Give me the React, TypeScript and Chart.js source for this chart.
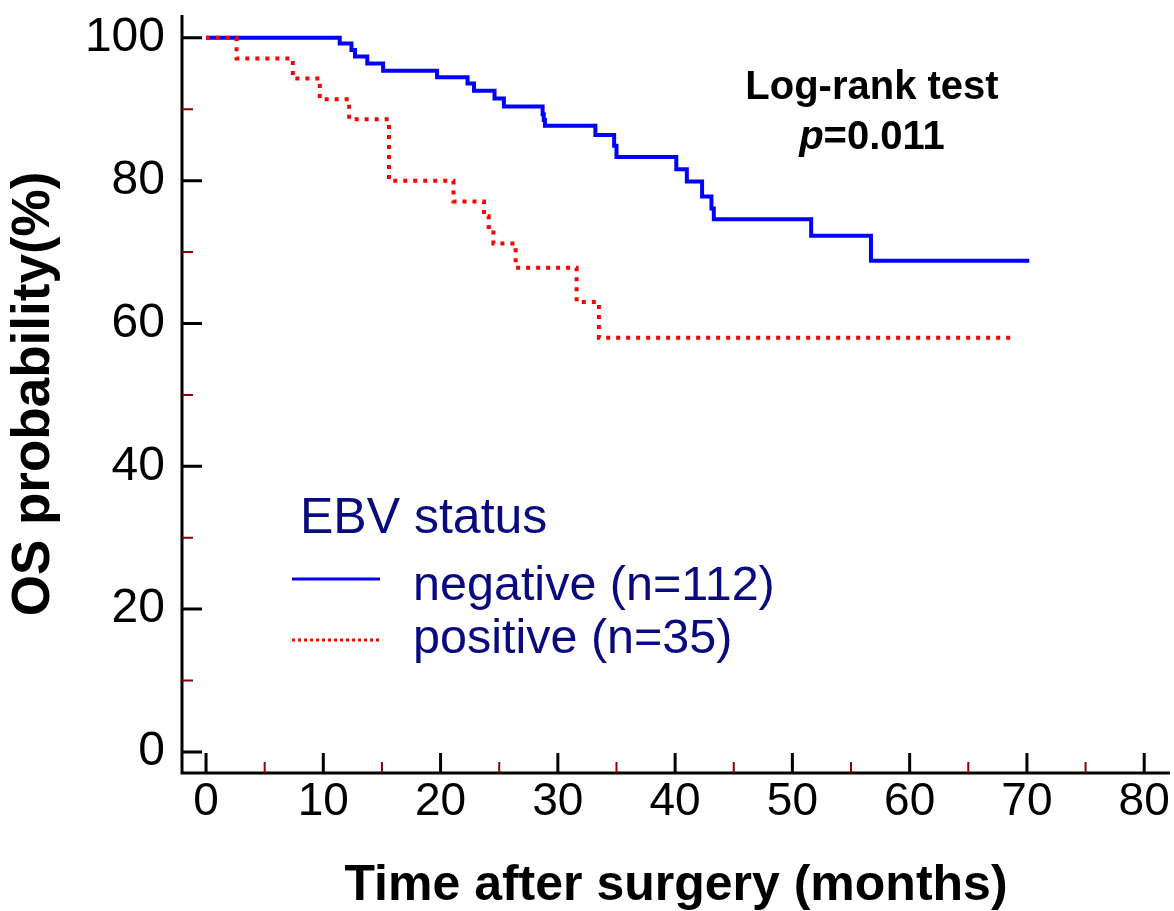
import React, { useEffect, useRef } from 'react';
import { Chart, registerables } from 'chart.js';

Chart.register(...registerables);

// ---- Data (Kaplan–Meier step points) ----
const negTimes = [0, 11.4, 12.4, 12.7, 13.75, 15.1, 19.7, 22.3, 22.85, 24.6, 25.4, 28.7, 28.8, 28.9, 33.2, 34.8, 35.0, 40.1, 41.0, 42.3, 43.1, 43.3, 51.6, 56.7, 70.2];
const negSurv = [100, 99.2, 98.3, 97.4, 96.4, 95.4, 94.5, 93.6, 92.6, 91.5, 90.4, 89.3, 88.5, 87.7, 86.4, 84.9, 83.3, 81.6, 79.9, 77.8, 76.1, 74.6, 72.3, 68.8, 68.8];

const posTimes = [0, 2.6, 7.4, 9.7, 12.2, 15.6, 21.1, 23.7, 24.1, 24.5, 26.4, 31.6, 33.5, 69.0];
const posSurv = [100, 97.1, 94.3, 91.4, 88.6, 80.0, 77.1, 75.0, 73.5, 71.2, 67.8, 63.0, 58.0, 58.0];

const seriesLabels = ['negative (n=112)', 'positive (n=35)'];
const legendTitle = 'EBV status';

const xTicks = [0, 10, 20, 30, 40, 50, 60, 70, 80];
const xMinorTicks = [5, 15, 25, 35, 45, 55, 65, 75];
const yTicks = [0, 20, 40, 60, 80, 100];
const yMinorTicks = [10, 30, 50, 70, 90];

const xTitle = 'Time after surgery (months)';
const yTitle = 'OS probability(%)';
const testTitle = 'Log-rank test';
const pSymbol = 'p';
const pValueText = '=0.011';

const FONT = "'Liberation Sans', Arial, Helvetica, sans-serif";
const NAVY = '#0a0a80';
const BLUE = '#0000ff';
const RED = '#ff0000';
const MINOR = '#8b0000';

const kmPlugin = {
  id: 'kmDecor',
  afterDatasetsDraw(chart: any) {
    const { ctx, chartArea: ca, scales } = chart;
    const x = scales.x;
    const y = scales.y;
    ctx.save();

    // axis lines
    ctx.strokeStyle = '#000';
    ctx.lineWidth = 3;
    ctx.lineCap = 'butt';
    ctx.beginPath();
    ctx.moveTo(ca.left, ca.top);
    ctx.lineTo(ca.left, ca.bottom + 1.5);
    ctx.moveTo(ca.left - 1.5, ca.bottom);
    ctx.lineTo(ca.right, ca.bottom);
    ctx.stroke();

    // major ticks (inward)
    ctx.beginPath();
    yTicks.forEach((v) => {
      const py = y.getPixelForValue(v);
      ctx.moveTo(ca.left, py);
      ctx.lineTo(ca.left + 20, py);
    });
    xTicks.forEach((v) => {
      const px = x.getPixelForValue(v);
      ctx.moveTo(px, ca.bottom);
      ctx.lineTo(px, ca.bottom - 20);
    });
    ctx.stroke();

    // minor ticks
    ctx.strokeStyle = MINOR;
    ctx.lineWidth = 2;
    ctx.beginPath();
    yMinorTicks.forEach((v) => {
      const py = y.getPixelForValue(v);
      ctx.moveTo(ca.left, py);
      ctx.lineTo(ca.left + 11, py);
    });
    xMinorTicks.forEach((v) => {
      const px = x.getPixelForValue(v);
      ctx.moveTo(px, ca.bottom);
      ctx.lineTo(px, ca.bottom - 11);
    });
    ctx.stroke();

    // legend
    const ds = chart.data.datasets;
    const negDs = ds.find((d: any) => d.label === seriesLabels[0]);
    const posDs = ds.find((d: any) => d.label === seriesLabels[1]);
    ctx.fillStyle = NAVY;
    ctx.textAlign = 'left';
    ctx.textBaseline = 'alphabetic';
    ctx.font = `50px ${FONT}`;
    ctx.fillText(legendTitle, 300, 533);
    ctx.font = `48.5px ${FONT}`;
    ctx.fillText(negDs.label, 413, 600);
    ctx.fillText(posDs.label, 413, 653);

    ctx.strokeStyle = negDs.borderColor;
    ctx.lineWidth = 3;
    ctx.setLineDash([]);
    ctx.beginPath();
    ctx.moveTo(292, 579);
    ctx.lineTo(380, 579);
    ctx.stroke();

    ctx.strokeStyle = posDs.borderColor;
    ctx.lineWidth = 3;
    ctx.setLineDash([3, 3]);
    ctx.beginPath();
    ctx.moveTo(292, 640);
    ctx.lineTo(380, 640);
    ctx.stroke();
    ctx.setLineDash([]);

    // Log-rank annotation
    ctx.fillStyle = '#000';
    ctx.textAlign = 'center';
    ctx.font = `bold 40px ${FONT}`;
    ctx.fillText(testTitle, 872, 99);
    ctx.textAlign = 'left';
    ctx.font = `italic bold 40px ${FONT}`;
    const wP = ctx.measureText(pSymbol).width;
    ctx.font = `bold 40px ${FONT}`;
    const wV = ctx.measureText(pValueText).width;
    const startX = 872 - (wP + wV) / 2;
    ctx.font = `italic bold 40px ${FONT}`;
    ctx.fillText(pSymbol, startX, 149);
    ctx.font = `bold 40px ${FONT}`;
    ctx.fillText(pValueText, startX + wP, 149);

    ctx.restore();
  },
};

export default function App() {
  const canvasRef = useRef<HTMLCanvasElement | null>(null);

  useEffect(() => {
    document.body.style.margin = '0';
    const canvas = canvasRef.current;
    if (!canvas) return;

    const chart = new Chart(canvas, {
      type: 'line',
      data: {
        datasets: [
          {
            label: seriesLabels[1],
            data: posTimes.map((t, i) => ({ x: t, y: posSurv[i] })),
            borderColor: RED,
            backgroundColor: RED,
            borderWidth: 4,
            borderDash: [4, 6],
            borderCapStyle: 'butt',
            stepped: 'before',
            pointRadius: 0,
            fill: false,
            order: 0,
          },
          {
            label: seriesLabels[0],
            data: negTimes.map((t, i) => ({ x: t, y: negSurv[i] })),
            borderColor: BLUE,
            backgroundColor: BLUE,
            borderWidth: 4,
            stepped: 'before',
            pointRadius: 0,
            fill: false,
            order: 1,
          },
        ],
      },
      options: {
        responsive: false,
        animation: false,
        events: [],
        layout: { padding: { top: 15, right: 4, left: 0, bottom: 0 } },
        plugins: {
          legend: { display: false },
          tooltip: { enabled: false },
        },
        scales: {
          x: {
            type: 'linear',
            min: -2.05,
            max: 82.2,
            afterFit: (s: any) => {
              s.height = 138;
              s.paddingLeft = 0;
              s.paddingRight = 0;
            },
            afterBuildTicks: (s: any) => {
              s.ticks = xTicks.map((v) => ({ value: v }));
            },
            grid: { display: false, drawTicks: false },
            border: { display: false },
            ticks: {
              color: '#000',
              font: { family: FONT, size: 46 },
              padding: 2,
              maxRotation: 0,
              autoSkip: false,
            },
            title: {
              display: true,
              text: xTitle,
              color: '#000',
              font: { family: FONT, size: 50, weight: 'bold', lineHeight: 1 },
              padding: { top: 0, bottom: 0 },
            },
          },
          y: {
            type: 'linear',
            min: -2.95,
            max: 103.2,
            afterFit: (s: any) => {
              s.width = 182;
              s.paddingTop = 0;
              s.paddingBottom = 0;
            },
            afterBuildTicks: (s: any) => {
              s.ticks = yTicks.map((v) => ({ value: v }));
            },
            grid: { display: false, drawTicks: false },
            border: { display: false },
            ticks: {
              color: '#000',
              font: { family: FONT, size: 48 },
              padding: 17,
              autoSkip: false,
            },
            title: {
              display: true,
              text: yTitle,
              color: '#000',
              font: { family: FONT, size: 53, weight: 'bold', lineHeight: 1 },
              padding: { top: 8, bottom: 0 },
            },
          },
        },
      } as any,
      plugins: [kmPlugin],
    });

    return () => {
      chart.destroy();
    };
  }, []);

  return (
    <canvas
      ref={canvasRef}
      width={1174}
      height={911}
      style={{ display: 'block', width: '1174px', height: '911px' }}
    />
  );
}
